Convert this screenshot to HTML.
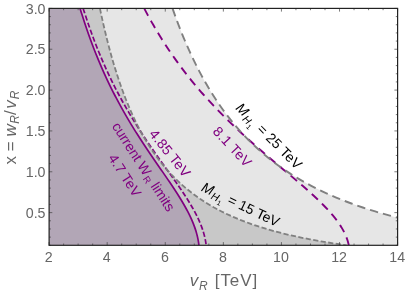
<!DOCTYPE html>
<html><head><meta charset="utf-8"><style>
html,body{margin:0;padding:0;background:#fff}
svg{display:block;will-change:transform}
text{font-family:"Liberation Sans",sans-serif}
</style></head><body>
<svg width="407" height="292" viewBox="0 0 407 292">
<defs><clipPath id="c"><rect x="49.1" y="8.4" width="348.5" height="236.9"/></clipPath></defs>
<rect width="407" height="292" fill="#fff"/>
<g clip-path="url(#c)">
<path d="M49.10,8.40 L172.53,8.40 L173.22,10.39 L173.93,12.38 L174.64,14.37 L175.36,16.36 L176.08,18.35 L176.82,20.34 L177.57,22.34 L178.32,24.33 L179.09,26.32 L179.86,28.31 L180.64,30.30 L181.44,32.29 L182.24,34.28 L183.05,36.27 L183.88,38.26 L184.71,40.25 L185.56,42.24 L186.41,44.23 L187.28,46.22 L188.16,48.22 L189.05,50.21 L189.96,52.20 L190.87,54.19 L191.80,56.18 L192.74,58.17 L193.70,60.16 L194.67,62.15 L195.65,64.14 L196.65,66.13 L197.66,68.12 L198.69,70.11 L199.73,72.10 L200.79,74.09 L201.87,76.09 L202.96,78.08 L204.07,80.07 L205.19,82.06 L206.34,84.05 L207.50,86.04 L208.68,88.03 L209.88,90.02 L211.11,92.01 L212.35,94.00 L213.61,95.99 L214.90,97.98 L216.21,99.97 L217.54,101.97 L218.89,103.96 L220.27,105.95 L221.68,107.94 L223.11,109.93 L224.57,111.92 L226.06,113.91 L227.57,115.90 L229.12,117.89 L230.69,119.88 L232.30,121.87 L233.94,123.86 L235.61,125.85 L237.32,127.85 L239.07,129.84 L240.85,131.83 L242.67,133.82 L244.54,135.81 L246.44,137.80 L248.39,139.79 L250.38,141.78 L252.42,143.77 L254.51,145.76 L256.65,147.75 L258.84,149.74 L261.09,151.73 L263.40,153.73 L265.76,155.72 L268.19,157.71 L270.69,159.70 L273.25,161.69 L275.89,163.68 L278.60,165.67 L281.38,167.66 L284.26,169.65 L287.21,171.64 L290.26,173.63 L293.41,175.62 L296.66,177.61 L300.01,179.61 L303.48,181.60 L307.07,183.59 L310.78,185.58 L314.63,187.57 L318.62,189.56 L322.76,191.55 L327.06,193.54 L331.53,195.53 L336.19,197.52 L341.04,199.51 L346.11,201.50 L351.40,203.49 L356.93,205.48 L362.73,207.48 L368.81,209.47 L375.20,211.46 L381.93,213.45 L389.02,215.44 L396.51,217.43 L404.45,219.42 L412.86,221.41 L421.82,223.40 L431.37,225.39 L441.58,227.38 L452.54,229.37 L464.34,231.36 L477.09,233.36 L490.93,235.35 L506.03,237.34 L522.58,239.33 L540.84,241.32 L561.12,243.31 L583.83,245.30 L49.10,245.30Z" fill="#e6e6e6"/>
<path d="M49.10,8.40 L99.92,8.40 L100.34,10.39 L100.76,12.38 L101.19,14.37 L101.62,16.36 L102.06,18.35 L102.50,20.34 L102.95,22.34 L103.40,24.33 L103.86,26.32 L104.32,28.31 L104.79,30.30 L105.27,32.29 L105.75,34.28 L106.24,36.27 L106.73,38.26 L107.23,40.25 L107.74,42.24 L108.25,44.23 L108.78,46.22 L109.30,48.22 L109.84,50.21 L110.38,52.20 L110.93,54.19 L111.49,56.18 L112.05,58.17 L112.63,60.16 L113.21,62.15 L113.80,64.14 L114.40,66.13 L115.00,68.12 L115.62,70.11 L116.25,72.10 L116.88,74.09 L117.53,76.09 L118.18,78.08 L118.85,80.07 L119.52,82.06 L120.21,84.05 L120.91,86.04 L121.62,88.03 L122.34,90.02 L123.07,92.01 L123.82,94.00 L124.57,95.99 L125.35,97.98 L126.13,99.97 L126.93,101.97 L127.74,103.96 L128.57,105.95 L129.41,107.94 L130.27,109.93 L131.15,111.92 L132.04,113.91 L132.95,115.90 L133.88,117.89 L134.82,119.88 L135.79,121.87 L136.77,123.86 L137.77,125.85 L138.80,127.85 L139.85,129.84 L140.92,131.83 L142.01,133.82 L143.13,135.81 L144.27,137.80 L145.44,139.79 L146.64,141.78 L147.86,143.77 L149.11,145.76 L150.40,147.75 L151.71,149.74 L153.06,151.73 L154.45,153.73 L155.87,155.72 L157.32,157.71 L158.82,159.70 L160.36,161.69 L161.94,163.68 L163.56,165.67 L165.24,167.66 L166.96,169.65 L168.74,171.64 L170.57,173.63 L172.45,175.62 L174.40,177.61 L176.41,179.61 L178.49,181.60 L180.65,183.59 L182.87,185.58 L185.18,187.57 L187.58,189.56 L190.06,191.55 L192.64,193.54 L195.33,195.53 L198.12,197.52 L201.03,199.51 L204.07,201.50 L207.25,203.49 L210.57,205.48 L214.04,207.48 L217.69,209.47 L221.53,211.46 L225.56,213.45 L229.82,215.44 L234.31,217.43 L239.07,219.42 L244.13,221.41 L249.50,223.40 L255.23,225.39 L261.35,227.38 L267.93,229.37 L275.01,231.36 L282.66,233.36 L290.97,235.35 L300.03,237.34 L309.96,239.33 L320.91,241.32 L333.08,243.31 L346.70,245.30 L49.10,245.30Z" fill="#c8c8c8"/>
<path d="M49.10,8.40 L80.06,8.40 L80.67,10.39 L81.28,12.38 L81.90,14.37 L82.53,16.36 L83.17,18.35 L83.81,20.34 L84.46,22.34 L85.12,24.33 L85.79,26.32 L86.47,28.31 L87.15,30.30 L87.84,32.29 L88.54,34.28 L89.25,36.27 L89.97,38.26 L90.70,40.25 L91.44,42.24 L92.18,44.23 L92.94,46.22 L93.70,48.22 L94.48,50.21 L95.26,52.20 L96.05,54.19 L96.86,56.18 L97.67,58.17 L98.49,60.16 L99.33,62.15 L100.17,64.14 L101.03,66.13 L101.89,68.12 L102.77,70.11 L103.65,72.10 L104.55,74.09 L105.46,76.09 L106.38,78.08 L107.31,80.07 L108.26,82.06 L109.21,84.05 L110.18,86.04 L111.16,88.03 L112.15,90.02 L113.15,92.01 L114.16,94.00 L115.19,95.99 L116.23,97.98 L117.28,99.97 L118.34,101.97 L119.42,103.96 L120.51,105.95 L121.61,107.94 L122.72,109.93 L123.84,111.92 L124.98,113.91 L126.13,115.90 L127.29,117.89 L128.47,119.88 L129.65,121.87 L130.85,123.86 L132.06,125.85 L133.28,127.85 L134.52,129.84 L135.76,131.83 L137.02,133.82 L138.29,135.81 L139.56,137.80 L140.85,139.79 L142.15,141.78 L143.45,143.77 L144.77,145.76 L146.10,147.75 L147.43,149.74 L148.77,151.73 L150.12,153.73 L151.47,155.72 L152.83,157.71 L154.19,159.70 L155.56,161.69 L156.93,163.68 L158.31,165.67 L159.68,167.66 L161.06,169.65 L162.44,171.64 L163.81,173.63 L165.18,175.62 L166.55,177.61 L167.91,179.61 L169.26,181.60 L170.61,183.59 L171.95,185.58 L173.27,187.57 L174.59,189.56 L175.88,191.55 L177.17,193.54 L178.43,195.53 L179.68,197.52 L180.90,199.51 L182.10,201.50 L183.27,203.49 L184.42,205.48 L185.54,207.48 L186.63,209.47 L187.68,211.46 L188.70,213.45 L189.69,215.44 L190.63,217.43 L191.54,219.42 L192.40,221.41 L193.22,223.40 L193.99,225.39 L194.72,227.38 L195.40,229.37 L196.03,231.36 L196.60,233.36 L197.13,235.35 L197.60,237.34 L198.02,239.33 L198.38,241.32 L198.69,243.31 L198.94,245.30 L49.10,245.30Z" fill="#b2a6b6"/>
<path d="M80.06,8.40 L80.67,10.39 L81.28,12.38 L81.90,14.37 L82.53,16.36 L83.17,18.35 L83.81,20.34 L84.46,22.34 L85.12,24.33 L85.79,26.32 L86.47,28.31 L87.15,30.30 L87.84,32.29 L88.54,34.28 L89.25,36.27 L89.97,38.26 L90.70,40.25 L91.44,42.24 L92.18,44.23 L92.94,46.22 L93.70,48.22 L94.48,50.21 L95.26,52.20 L96.05,54.19 L96.86,56.18 L97.67,58.17 L98.49,60.16 L99.33,62.15 L100.17,64.14 L101.03,66.13 L101.89,68.12 L102.77,70.11 L103.65,72.10 L104.55,74.09 L105.46,76.09 L106.38,78.08 L107.31,80.07 L108.26,82.06 L109.21,84.05 L110.18,86.04 L111.16,88.03 L112.15,90.02 L113.15,92.01 L114.16,94.00 L115.19,95.99 L116.23,97.98 L117.28,99.97 L118.34,101.97 L119.42,103.96 L120.51,105.95 L121.61,107.94 L122.72,109.93 L123.84,111.92 L124.98,113.91 L126.13,115.90 L127.29,117.89 L128.47,119.88 L129.65,121.87 L130.85,123.86 L132.06,125.85 L133.28,127.85 L134.52,129.84 L135.76,131.83 L137.02,133.82 L138.29,135.81 L139.56,137.80 L140.85,139.79 L142.15,141.78 L143.45,143.77 L144.77,145.76 L146.10,147.75 L147.43,149.74 L148.77,151.73 L150.12,153.73 L151.47,155.72 L152.83,157.71 L154.19,159.70 L155.56,161.69 L156.93,163.68 L158.31,165.67 L159.68,167.66 L161.06,169.65 L162.44,171.64 L163.81,173.63 L165.18,175.62 L166.55,177.61 L167.91,179.61 L169.26,181.60 L170.61,183.59 L171.95,185.58 L173.27,187.57 L174.59,189.56 L175.88,191.55 L177.17,193.54 L178.43,195.53 L179.68,197.52 L180.90,199.51 L182.10,201.50 L183.27,203.49 L184.42,205.48 L185.54,207.48 L186.63,209.47 L187.68,211.46 L188.70,213.45 L189.69,215.44 L190.63,217.43 L191.54,219.42 L192.40,221.41 L193.22,223.40 L193.99,225.39 L194.72,227.38 L195.40,229.37 L196.03,231.36 L196.60,233.36 L197.13,235.35 L197.60,237.34 L198.02,239.33 L198.38,241.32 L198.69,243.31 L198.94,245.30" fill="none" stroke="#800080" stroke-width="1.7"/>
<path d="M83.16,8.40 L83.79,10.39 L84.42,12.38 L85.07,14.37 L85.72,16.36 L86.38,18.35 L87.04,20.34 L87.72,22.34 L88.40,24.33 L89.09,26.32 L89.79,28.31 L90.50,30.30 L91.22,32.29 L91.94,34.28 L92.68,36.27 L93.42,38.26 L94.17,40.25 L94.94,42.24 L95.71,44.23 L96.49,46.22 L97.28,48.22 L98.08,50.21 L98.89,52.20 L99.71,54.19 L100.54,56.18 L101.39,58.17 L102.24,60.16 L103.10,62.15 L103.97,64.14 L104.86,66.13 L105.75,68.12 L106.66,70.11 L107.58,72.10 L108.51,74.09 L109.45,76.09 L110.40,78.08 L111.37,80.07 L112.34,82.06 L113.33,84.05 L114.33,86.04 L115.34,88.03 L116.37,90.02 L117.41,92.01 L118.46,94.00 L119.52,95.99 L120.59,97.98 L121.68,99.97 L122.78,101.97 L123.89,103.96 L125.02,105.95 L126.16,107.94 L127.31,109.93 L128.47,111.92 L129.65,113.91 L130.84,115.90 L132.04,117.89 L133.26,119.88 L134.48,121.87 L135.72,123.86 L136.98,125.85 L138.24,127.85 L139.52,129.84 L140.81,131.83 L142.11,133.82 L143.42,135.81 L144.74,137.80 L146.07,139.79 L147.41,141.78 L148.77,143.77 L150.13,145.76 L151.50,147.75 L152.88,149.74 L154.27,151.73 L155.66,153.73 L157.06,155.72 L158.47,157.71 L159.88,159.70 L161.30,161.69 L162.72,163.68 L164.14,165.67 L165.56,167.66 L166.99,169.65 L168.41,171.64 L169.83,173.63 L171.25,175.62 L172.66,177.61 L174.07,179.61 L175.48,181.60 L176.87,183.59 L178.25,185.58 L179.62,187.57 L180.98,189.56 L182.33,191.55 L183.65,193.54 L184.96,195.53 L186.25,197.52 L187.52,199.51 L188.76,201.50 L189.97,203.49 L191.16,205.48 L192.32,207.48 L193.44,209.47 L194.54,211.46 L195.59,213.45 L196.61,215.44 L197.59,217.43 L198.53,219.42 L199.42,221.41 L200.27,223.40 L201.07,225.39 L201.82,227.38 L202.52,229.37 L203.17,231.36 L203.77,233.36 L204.31,235.35 L204.80,237.34 L205.23,239.33 L205.61,241.32 L205.92,243.31 L206.18,245.30" fill="none" stroke="#800080" stroke-width="1.7" stroke-dasharray="5.2 2.3"/>
<path d="M144.22,8.40 L145.26,10.39 L146.32,12.38 L147.39,14.37 L148.47,16.36 L149.56,18.35 L150.67,20.34 L151.79,22.34 L152.93,24.33 L154.08,26.32 L155.24,28.31 L156.42,30.30 L157.61,32.29 L158.82,34.28 L160.04,36.27 L161.28,38.26 L162.53,40.25 L163.79,42.24 L165.08,44.23 L166.38,46.22 L167.69,48.22 L169.02,50.21 L170.37,52.20 L171.74,54.19 L173.12,56.18 L174.52,58.17 L175.94,60.16 L177.37,62.15 L178.82,64.14 L180.29,66.13 L181.78,68.12 L183.29,70.11 L184.82,72.10 L186.36,74.09 L187.93,76.09 L189.51,78.08 L191.11,80.07 L192.74,82.06 L194.38,84.05 L196.04,86.04 L197.73,88.03 L199.43,90.02 L201.15,92.01 L202.90,94.00 L204.67,95.99 L206.45,97.98 L208.26,99.97 L210.09,101.97 L211.94,103.96 L213.81,105.95 L215.71,107.94 L217.62,109.93 L219.56,111.92 L221.51,113.91 L223.49,115.90 L225.49,117.89 L227.51,119.88 L229.55,121.87 L231.61,123.86 L233.69,125.85 L235.80,127.85 L237.92,129.84 L240.06,131.83 L242.22,133.82 L244.40,135.81 L246.60,137.80 L248.81,139.79 L251.05,141.78 L253.29,143.77 L255.56,145.76 L257.84,147.75 L260.13,149.74 L262.44,151.73 L264.76,153.73 L267.09,155.72 L269.42,157.71 L271.77,159.70 L274.13,161.69 L276.49,163.68 L278.85,165.67 L281.22,167.66 L283.59,169.65 L285.95,171.64 L288.32,173.63 L290.68,175.62 L293.03,177.61 L295.37,179.61 L297.70,181.60 L300.02,183.59 L302.32,185.58 L304.60,187.57 L306.86,189.56 L309.09,191.55 L311.30,193.54 L313.47,195.53 L315.62,197.52 L317.72,199.51 L319.79,201.50 L321.81,203.49 L323.78,205.48 L325.71,207.48 L327.58,209.47 L329.39,211.46 L331.15,213.45 L332.84,215.44 L334.47,217.43 L336.03,219.42 L337.51,221.41 L338.92,223.40 L340.25,225.39 L341.50,227.38 L342.67,229.37 L343.75,231.36 L344.74,233.36 L345.65,235.35 L346.46,237.34 L347.18,239.33 L347.80,241.32 L348.33,243.31 L348.76,245.30" fill="none" stroke="#800080" stroke-width="1.9" stroke-dasharray="8.3 5.7"/>
<path d="M99.92,8.40 L100.34,10.39 L100.76,12.38 L101.19,14.37 L101.62,16.36 L102.06,18.35 L102.50,20.34 L102.95,22.34 L103.40,24.33 L103.86,26.32 L104.32,28.31 L104.79,30.30 L105.27,32.29 L105.75,34.28 L106.24,36.27 L106.73,38.26 L107.23,40.25 L107.74,42.24 L108.25,44.23 L108.78,46.22 L109.30,48.22 L109.84,50.21 L110.38,52.20 L110.93,54.19 L111.49,56.18 L112.05,58.17 L112.63,60.16 L113.21,62.15 L113.80,64.14 L114.40,66.13 L115.00,68.12 L115.62,70.11 L116.25,72.10 L116.88,74.09 L117.53,76.09 L118.18,78.08 L118.85,80.07 L119.52,82.06 L120.21,84.05 L120.91,86.04 L121.62,88.03 L122.34,90.02 L123.07,92.01 L123.82,94.00 L124.57,95.99 L125.35,97.98 L126.13,99.97 L126.93,101.97 L127.74,103.96 L128.57,105.95 L129.41,107.94 L130.27,109.93 L131.15,111.92 L132.04,113.91 L132.95,115.90 L133.88,117.89 L134.82,119.88 L135.79,121.87 L136.77,123.86 L137.77,125.85 L138.80,127.85 L139.85,129.84 L140.92,131.83 L142.01,133.82 L143.13,135.81 L144.27,137.80 L145.44,139.79 L146.64,141.78 L147.86,143.77 L149.11,145.76 L150.40,147.75 L151.71,149.74 L153.06,151.73 L154.45,153.73 L155.87,155.72 L157.32,157.71 L158.82,159.70 L160.36,161.69 L161.94,163.68 L163.56,165.67 L165.24,167.66 L166.96,169.65 L168.74,171.64 L170.57,173.63 L172.45,175.62 L174.40,177.61 L176.41,179.61 L178.49,181.60 L180.65,183.59 L182.87,185.58 L185.18,187.57 L187.58,189.56 L190.06,191.55 L192.64,193.54 L195.33,195.53 L198.12,197.52 L201.03,199.51 L204.07,201.50 L207.25,203.49 L210.57,205.48 L214.04,207.48 L217.69,209.47 L221.53,211.46 L225.56,213.45 L229.82,215.44 L234.31,217.43 L239.07,219.42 L244.13,221.41 L249.50,223.40 L255.23,225.39 L261.35,227.38 L267.93,229.37 L275.01,231.36 L282.66,233.36 L290.97,235.35 L300.03,237.34 L309.96,239.33 L320.91,241.32 L333.08,243.31 L346.70,245.30" fill="none" stroke="#808080" stroke-width="1.8" stroke-dasharray="5.2 2.4"/>
<path d="M172.53,8.40 L173.22,10.39 L173.93,12.38 L174.64,14.37 L175.36,16.36 L176.08,18.35 L176.82,20.34 L177.57,22.34 L178.32,24.33 L179.09,26.32 L179.86,28.31 L180.64,30.30 L181.44,32.29 L182.24,34.28 L183.05,36.27 L183.88,38.26 L184.71,40.25 L185.56,42.24 L186.41,44.23 L187.28,46.22 L188.16,48.22 L189.05,50.21 L189.96,52.20 L190.87,54.19 L191.80,56.18 L192.74,58.17 L193.70,60.16 L194.67,62.15 L195.65,64.14 L196.65,66.13 L197.66,68.12 L198.69,70.11 L199.73,72.10 L200.79,74.09 L201.87,76.09 L202.96,78.08 L204.07,80.07 L205.19,82.06 L206.34,84.05 L207.50,86.04 L208.68,88.03 L209.88,90.02 L211.11,92.01 L212.35,94.00 L213.61,95.99 L214.90,97.98 L216.21,99.97 L217.54,101.97 L218.89,103.96 L220.27,105.95 L221.68,107.94 L223.11,109.93 L224.57,111.92 L226.06,113.91 L227.57,115.90 L229.12,117.89 L230.69,119.88 L232.30,121.87 L233.94,123.86 L235.61,125.85 L237.32,127.85 L239.07,129.84 L240.85,131.83 L242.67,133.82 L244.54,135.81 L246.44,137.80 L248.39,139.79 L250.38,141.78 L252.42,143.77 L254.51,145.76 L256.65,147.75 L258.84,149.74 L261.09,151.73 L263.40,153.73 L265.76,155.72 L268.19,157.71 L270.69,159.70 L273.25,161.69 L275.89,163.68 L278.60,165.67 L281.38,167.66 L284.26,169.65 L287.21,171.64 L290.26,173.63 L293.41,175.62 L296.66,177.61 L300.01,179.61 L303.48,181.60 L307.07,183.59 L310.78,185.58 L314.63,187.57 L318.62,189.56 L322.76,191.55 L327.06,193.54 L331.53,195.53 L336.19,197.52 L341.04,199.51 L346.11,201.50 L351.40,203.49 L356.93,205.48 L362.73,207.48 L368.81,209.47 L375.20,211.46 L381.93,213.45 L389.02,215.44 L396.51,217.43 L404.45,219.42 L412.86,221.41 L421.82,223.40 L431.37,225.39 L441.58,227.38 L452.54,229.37 L464.34,231.36 L477.09,233.36 L490.93,235.35 L506.03,237.34 L522.58,239.33 L540.84,241.32 L561.12,243.31 L583.83,245.30" fill="none" stroke="#808080" stroke-width="1.9" stroke-dasharray="8.4 5"/>
</g>
<path d="M49.10,245.3 v-3.2 M49.10,8.4 v3.2 M63.62,245.3 v-1.8 M63.62,8.4 v1.8 M78.14,245.3 v-1.8 M78.14,8.4 v1.8 M92.66,245.3 v-1.8 M92.66,8.4 v1.8 M107.18,245.3 v-3.2 M107.18,8.4 v3.2 M121.70,245.3 v-1.8 M121.70,8.4 v1.8 M136.22,245.3 v-1.8 M136.22,8.4 v1.8 M150.75,245.3 v-1.8 M150.75,8.4 v1.8 M165.27,245.3 v-3.2 M165.27,8.4 v3.2 M179.79,245.3 v-1.8 M179.79,8.4 v1.8 M194.31,245.3 v-1.8 M194.31,8.4 v1.8 M208.83,245.3 v-1.8 M208.83,8.4 v1.8 M223.35,245.3 v-3.2 M223.35,8.4 v3.2 M237.87,245.3 v-1.8 M237.87,8.4 v1.8 M252.39,245.3 v-1.8 M252.39,8.4 v1.8 M266.91,245.3 v-1.8 M266.91,8.4 v1.8 M281.43,245.3 v-3.2 M281.43,8.4 v3.2 M295.95,245.3 v-1.8 M295.95,8.4 v1.8 M310.48,245.3 v-1.8 M310.48,8.4 v1.8 M325.00,245.3 v-1.8 M325.00,8.4 v1.8 M339.52,245.3 v-3.2 M339.52,8.4 v3.2 M354.04,245.3 v-1.8 M354.04,8.4 v1.8 M368.56,245.3 v-1.8 M368.56,8.4 v1.8 M383.08,245.3 v-1.8 M383.08,8.4 v1.8 M397.60,245.3 v-3.2 M397.60,8.4 v3.2 M49.1,245.30 h1.8 M397.6,245.30 h-1.8 M49.1,237.13 h1.8 M397.6,237.13 h-1.8 M49.1,228.96 h1.8 M397.6,228.96 h-1.8 M49.1,220.79 h1.8 M397.6,220.79 h-1.8 M49.1,212.62 h3.2 M397.6,212.62 h-3.2 M49.1,204.46 h1.8 M397.6,204.46 h-1.8 M49.1,196.29 h1.8 M397.6,196.29 h-1.8 M49.1,188.12 h1.8 M397.6,188.12 h-1.8 M49.1,179.95 h1.8 M397.6,179.95 h-1.8 M49.1,171.78 h3.2 M397.6,171.78 h-3.2 M49.1,163.61 h1.8 M397.6,163.61 h-1.8 M49.1,155.44 h1.8 M397.6,155.44 h-1.8 M49.1,147.27 h1.8 M397.6,147.27 h-1.8 M49.1,139.10 h1.8 M397.6,139.10 h-1.8 M49.1,130.93 h3.2 M397.6,130.93 h-3.2 M49.1,122.77 h1.8 M397.6,122.77 h-1.8 M49.1,114.60 h1.8 M397.6,114.60 h-1.8 M49.1,106.43 h1.8 M397.6,106.43 h-1.8 M49.1,98.26 h1.8 M397.6,98.26 h-1.8 M49.1,90.09 h3.2 M397.6,90.09 h-3.2 M49.1,81.92 h1.8 M397.6,81.92 h-1.8 M49.1,73.75 h1.8 M397.6,73.75 h-1.8 M49.1,65.58 h1.8 M397.6,65.58 h-1.8 M49.1,57.41 h1.8 M397.6,57.41 h-1.8 M49.1,49.24 h3.2 M397.6,49.24 h-3.2 M49.1,41.08 h1.8 M397.6,41.08 h-1.8 M49.1,32.91 h1.8 M397.6,32.91 h-1.8 M49.1,24.74 h1.8 M397.6,24.74 h-1.8 M49.1,16.57 h1.8 M397.6,16.57 h-1.8 M49.1,8.40 h3.2 M397.6,8.40 h-3.2" stroke="#444" stroke-width="0.7" fill="none"/>
<rect x="49.1" y="8.4" width="348.5" height="236.9" fill="none" stroke="#222" stroke-width="1.2"/>
<g font-size="15.3" fill="#666"><text transform="translate(48.70,262.3) scale(0.93,1)" text-anchor="middle">2</text><text transform="translate(106.78,262.3) scale(0.93,1)" text-anchor="middle">4</text><text transform="translate(164.87,262.3) scale(0.93,1)" text-anchor="middle">6</text><text transform="translate(222.95,262.3) scale(0.93,1)" text-anchor="middle">8</text><text transform="translate(281.03,262.3) scale(0.93,1)" text-anchor="middle">10</text><text transform="translate(339.12,262.3) scale(0.93,1)" text-anchor="middle">12</text><text transform="translate(397.20,262.3) scale(0.93,1)" text-anchor="middle">14</text><text transform="translate(45.5,217.72) scale(0.93,1)" text-anchor="end">0.5</text><text transform="translate(45.5,176.88) scale(0.93,1)" text-anchor="end">1.0</text><text transform="translate(45.5,136.03) scale(0.93,1)" text-anchor="end">1.5</text><text transform="translate(45.5,95.19) scale(0.93,1)" text-anchor="end">2.0</text><text transform="translate(45.5,54.34) scale(0.93,1)" text-anchor="end">2.5</text><text transform="translate(45.5,13.50) scale(0.93,1)" text-anchor="end">3.0</text></g>
<g font-size="17" fill="#666">
<text class="lab" x="189.8" y="286.4"><tspan font-style="italic">v</tspan><tspan font-style="italic" font-size="12" dy="3.3" dx="0.8">R</tspan><tspan dy="-3.3" dx="1.4" letter-spacing="0.9"> [TeV]</tspan></text>
<text class="lab" transform="translate(16.1,164.4) rotate(-90)">x = <tspan font-style="italic">w</tspan><tspan font-style="italic" font-size="12" dy="3.3" dx="0.5">R</tspan><tspan dy="-3.3">/</tspan><tspan font-style="italic" dx="1.5">v</tspan><tspan font-style="italic" font-size="12" dy="3.3" dx="1.2">R</tspan></text>
</g>
<text class="lab" font-size="14" letter-spacing="-0.1" fill="#800080" transform="translate(111.4,126.3) rotate(57.0)">current W<tspan font-size="9.5" dy="2.5" dx="1.2">R</tspan><tspan dy="-2.5"> limits</tspan></text>
<text class="lab" font-size="14" letter-spacing="0.1" fill="#800080" transform="translate(107.8,157.9) rotate(57.0)">4.7 TeV</text>
<text class="lab" font-size="14" letter-spacing="0.2" fill="#800080" transform="translate(148.4,134.3) rotate(51.0)">4.85 TeV</text>
<text class="lab" font-size="14" letter-spacing="0.3" fill="#800080" transform="translate(212.1,132.1) rotate(47.0)">8.1 TeV</text>
<text class="lab" font-size="14" letter-spacing="0.2" fill="#000" transform="translate(235.1,108.8) rotate(45.0)"><tspan font-style="italic">M</tspan><tspan font-size="10.5" font-style="italic" dy="3" dx="0.5">H</tspan><tspan font-size="7" dy="2.5" dx="0.3">1</tspan><tspan dy="-5.5" dx="1.2"> = 25 TeV</tspan></text>
<text class="lab" font-size="14" letter-spacing="0" fill="#000" transform="translate(200.5,190.6) rotate(25.6)"><tspan font-style="italic">M</tspan><tspan font-size="10.5" font-style="italic" dy="3" dx="0.5">H</tspan><tspan font-size="7" dy="2.5" dx="0.3">1</tspan><tspan dy="-5.5" dx="1.2"> = 15 TeV</tspan></text>

</svg>
</body></html>
